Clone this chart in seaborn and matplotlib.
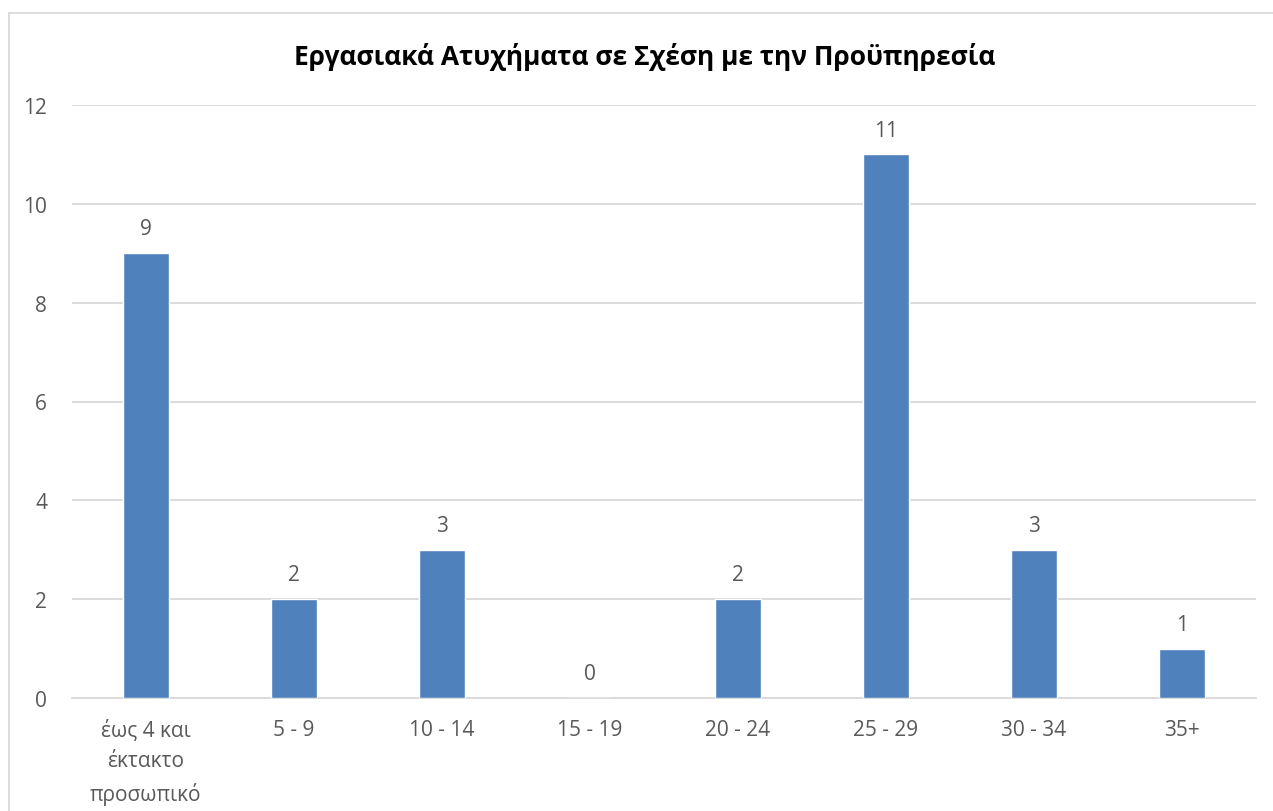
import matplotlib
matplotlib.use("Agg")
import matplotlib.pyplot as plt
import seaborn as sns
import pandas as pd
from matplotlib.lines import Line2D

# data
categories = ["έως 4 και\nέκτακτο\nπροσωπικό", "5 - 9", "10 - 14", "15 - 19",
              "20 - 24", "25 - 29", "30 - 34", "35+"]
accidents = [9, 2, 3, 0, 2, 11, 3, 1]
title = "Εργασιακά Ατυχήματα σε Σχέση με την Προϋπηρεσία"

df = pd.DataFrame({"group": categories, "count": accidents})

sns.set_theme(style="white")
plt.rcParams["font.family"] = ["Open Sans", "DejaVu Sans"]

text_col = "#595959"
grid_col = "#D9D9D9"
bar_col = "#4F81BD"

fig = plt.figure(figsize=(12.73, 8.12), dpi=100)
ax = fig.add_axes([72 / 1273, 113 / 812, (1256 - 72) / 1273, (699 - 106) / 812])

sns.barplot(data=df, x="group", y="count", color=bar_col, saturation=1,
            width=0.31, ax=ax, zorder=3)

ax.set_ylim(0, 12)
ax.set_xlim(-0.5, len(categories) - 0.5)
ax.set_yticks(range(0, 13, 2))
ax.yaxis.grid(True, color=grid_col, linewidth=1.3, zorder=0)
ax.set_axisbelow(True)
for side in ["top", "right", "left"]:
    ax.spines[side].set_visible(False)
ax.spines["bottom"].set_color(grid_col)
ax.spines["bottom"].set_linewidth(1.3)
ax.tick_params(axis="both", length=0, labelsize=15, labelcolor=text_col)
ax.tick_params(axis="x", pad=15)
ax.tick_params(axis="y", pad=18)
for lbl in ax.get_xticklabels():
    lbl.set_linespacing(1.6)
ax.set_xlabel("")
ax.set_ylabel("")

for cont in ax.containers:
    ax.bar_label(cont, labels=[str(v) for v in accidents], padding=10,
                 fontsize=15, color=text_col)

fig.text(645 / 1273, 1 - 57 / 812, title, ha="center", va="center",
         fontsize=19, fontweight="bold", color="#000000")

# chart area border (top and left visible in the reference)
fig.add_artist(Line2D([8.5 / 1273, 1], [1 - 14 / 812, 1 - 14 / 812],
                      transform=fig.transFigure, color=grid_col, linewidth=1.3))
fig.add_artist(Line2D([8.5 / 1273, 8.5 / 1273], [0, 1 - 14 / 812],
                      transform=fig.transFigure, color=grid_col, linewidth=1.3))

fig.savefig("out.png", dpi=100, facecolor="white")
